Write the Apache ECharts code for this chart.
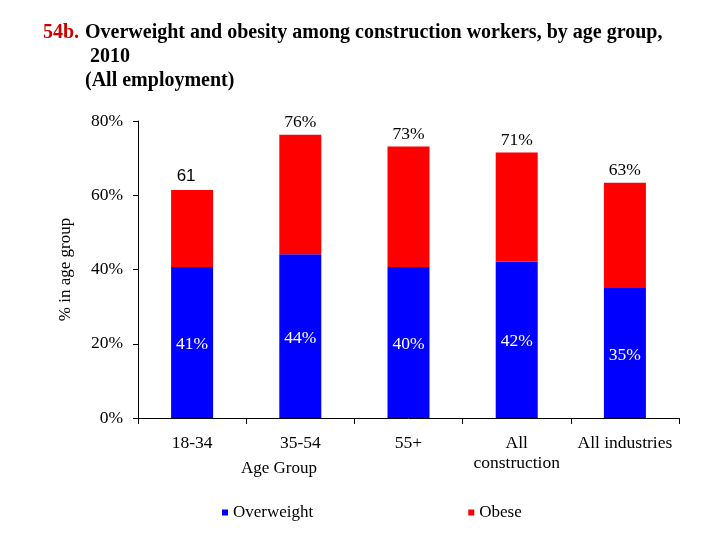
<!DOCTYPE html>
<html>
<head>
<meta charset="utf-8">
<script src="https://cdn.jsdelivr.net/npm/echarts@6/dist/echarts.min.js"></script>
<style>html,body{margin:0;padding:0;background:#fff;}#c{width:720px;height:540px;}</style>
</head>
<body>
<div id="c"></div>
<script>
var categories = ['18-34', '35-54', '55+', 'All\nconstruction', 'All industries'];
var overweight = [40.7, 44.1, 40.7, 42.1, 35.0];
var obese = [20.7, 32.2, 32.4, 29.4, 28.4];
var overweightLabels = ['41%', '44%', '40%', '42%', '35%'];
var totalLabels = ['61', '76%', '73%', '71%', '63%'];
var yTicks = [0, 20, 40, 60, 80];

var serif = 'Liberation Serif';
var chart = echarts.init(document.getElementById('c'));
chart.setOption({
  animation: false,
  backgroundColor: '#fff',
  title: [
    { text: '54b.', left: 43, top: 21, padding: 0,
      textStyle: { color: '#cc0000', fontFamily: serif, fontWeight: 'bold', fontSize: 20, lineHeight: 24 } },
    { text: 'Overweight and obesity among construction workers, by age group,\n 2010\n(All employment)',
      left: 85, top: 21, padding: 0,
      textStyle: { color: '#000', fontFamily: serif, fontWeight: 'bold', fontSize: 20, lineHeight: 24 } },
    { text: 'Age Group', left: 241, top: 459, padding: 0,
      textStyle: { color: '#000', fontFamily: serif, fontWeight: 'normal', fontSize: 17, lineHeight: 20 } }
  ],
  legend: {
    left: 222, top: 504, padding: 0,
    itemWidth: 6, itemHeight: 6, itemGap: 155,
    icon: 'rect',
    textStyle: { color: '#000', fontFamily: serif, fontSize: 17 },
    data: ['Overweight', 'Obese']
  },
  grid: { left: 138, right: 41, top: 121, bottom: 122, containLabel: false },
  xAxis: {
    type: 'category',
    data: categories,
    axisLine: { lineStyle: { color: '#000', width: 1 } },
    axisTick: { show: true, length: 6, lineStyle: { color: '#000' } },
    axisLabel: { color: '#000', fontFamily: serif, fontSize: 17.5, margin: 15, lineHeight: 20, interval: 0 }
  },
  yAxis: {
    type: 'value',
    min: yTicks[0], max: yTicks[yTicks.length - 1], interval: 20,
    name: '% in age group',
    nameLocation: 'middle',
    nameGap: 64,
    nameTextStyle: { color: '#000', fontFamily: serif, fontSize: 17 },
    axisLine: { show: true, lineStyle: { color: '#000', width: 1 } },
    axisTick: { show: true, length: 5, lineStyle: { color: '#000' } },
    splitLine: { show: false },
    axisLabel: { color: '#000', fontFamily: serif, fontSize: 17.5, margin: 15, formatter: '{value}%' }
  },
  series: [
    {
      name: 'Overweight', type: 'bar', stack: 'total', barWidth: 42,
      itemStyle: { color: '#0000ff' },
      data: overweight,
      label: {
        show: true, position: 'inside', offset: [0, 2],
        color: '#fff', fontFamily: serif, fontSize: 17.5,
        formatter: function (p) { return overweightLabels[p.dataIndex]; }
      }
    },
    {
      name: 'Obese', type: 'bar', stack: 'total', barWidth: 42,
      itemStyle: { color: '#ff0000' },
      data: obese.map(function (v, i) {
        return i === 0 ? { value: v, label: { offset: [-6, -2] } } : v;
      }),
      label: {
        show: true, position: 'top', distance: 3,
        formatter: function (p) {
          var t = totalLabels[p.dataIndex];
          return t.indexOf('%') < 0 ? '{s|' + t + '}' : '{t|' + t + '}';
        },
        rich: {
          s: { color: '#000', fontFamily: 'Liberation Sans', fontSize: 17 },
          t: { color: '#000', fontFamily: serif, fontSize: 17.5 }
        }
      }
    }
  ]
});
</script>
</body>
</html>
